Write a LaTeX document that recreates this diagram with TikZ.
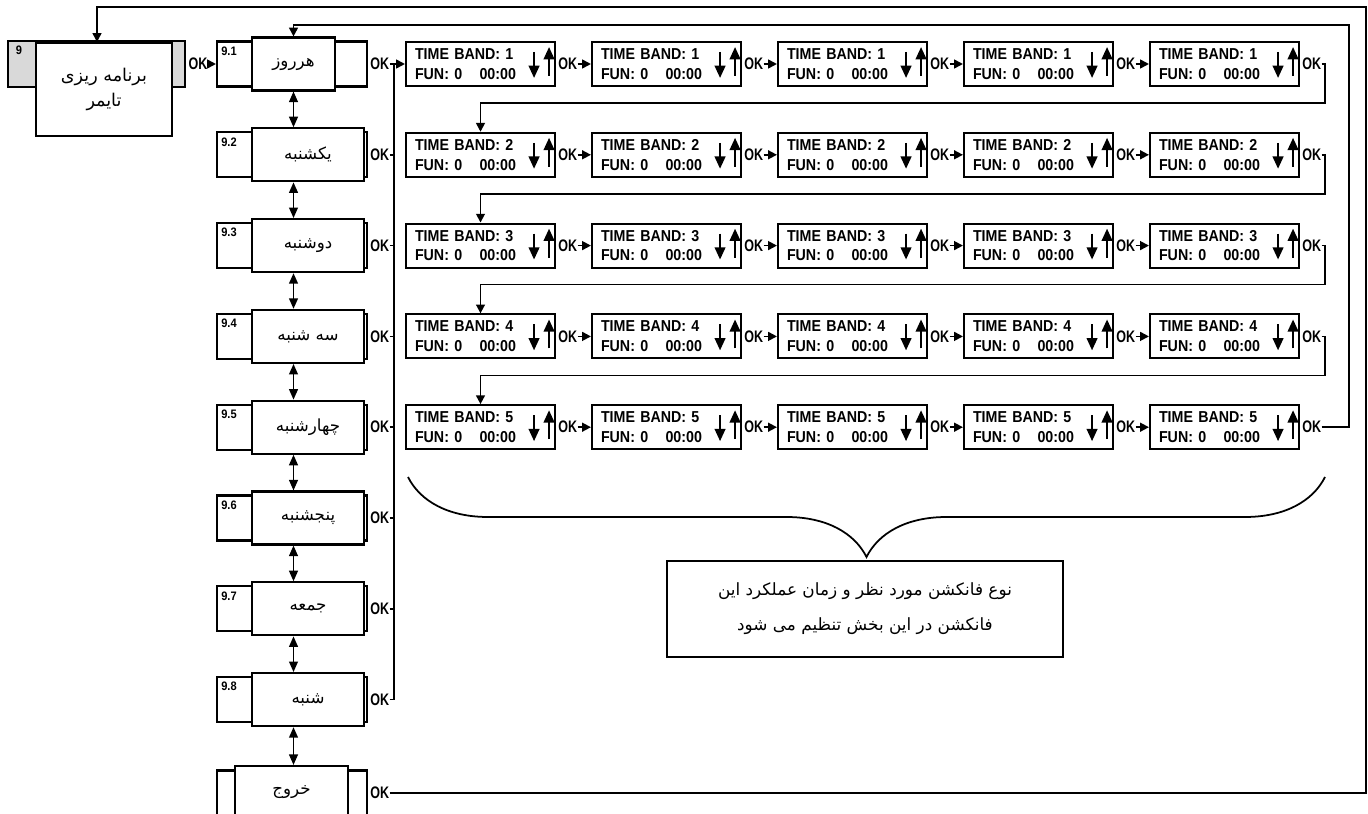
\documentclass[tikz,border=0pt]{standalone}
\usepackage{fontspec}
\setmainfont{Liberation Sans}
\newfontfamily\tbfont[FakeStretch=0.9]{Liberation Sans}
\newfontfamily\okfont[FakeStretch=0.75]{Liberation Sans}
\newfontfamily\fafont[Script=Arabic]{DejaVu Sans}
\TeXXeTstate=1
\usetikzlibrary{arrows.meta,decorations.pathreplacing}
\newcommand{\fatext}[1]{{\fafont\beginR #1\endR}}

\tikzset{
  conn/.style={line width=1pt},
  okarrow/.style={-{Triangle[length=5pt,width=5pt]}},
  dbl/.style={line width=1pt, {Triangle[length=6pt,width=5pt]}-{Triangle[length=6pt,width=5pt]}},
  updown/.style={line width=1.3pt, -{Triangle[length=7pt,width=6pt]}},
  dayframe/.style={draw, line width=1.2pt, fill=white, minimum width=3cm, minimum height=0.9cm},
  daybox/.style={draw, line width=1.2pt, fill=white, minimum width=2.24cm, minimum height=1.06cm, font=\fontsize{9.5}{11}\selectfont},
  tbbox/.style={draw, line width=1.2pt, minimum width=2.98cm, minimum height=0.88cm, align=left, text width=2.62cm, inner xsep=0.18cm, font=\tbfont\bfseries\fontsize{9}{11.3}\selectfont},
  oklbl/.style={inner sep=0pt, font=\okfont\bfseries\fontsize{9.5}{9.5}\selectfont},
  numlbl/.style={inner sep=0pt, anchor=north west, font=\tbfont\bfseries\fontsize{7}{7}\selectfont},
}

\begin{document}
\begin{tikzpicture}[x=0.02cm, y=-0.02cm]
  \clip (0,0) rectangle (1368,814);

  % Draw main menu box 9
  \node[draw, line width=1.6pt, fill=black!15, minimum width=3.54cm, minimum height=0.92cm] (g9) at (96.5,64) {};
  \node[numlbl] (n9) at ([xshift=0.18cm,yshift=-0.12cm]g9.north west) {9};
  \node[draw, line width=1.2pt, fill=white, minimum width=2.72cm, minimum height=1.86cm, align=center, font=\fontsize{10}{14.7}\selectfont] (m9) at (104,89.5) {\fatext{برنامه ریزی}\\\fatext{تایمر}};
  \node[oklbl, anchor=west] (ok9) at ([xshift=0.04cm]g9.east) {OK};

  % Draw day menu
  \node[dayframe] (f1) at (292,64) {};
  \node[numlbl] (n1) at ([xshift=0.1cm,yshift=-0.12cm]f1.north west) {9.1};
  \node[daybox, minimum width=1.66cm] (d1) at (293.5,64) {\fatext{هرروز}};
  \node[oklbl, anchor=west] (okd1) at ([xshift=0.04cm]f1.east) {OK};
  \foreach \k/\day in {2/یکشنبه, 3/دوشنبه, 4/سه شنبه, 5/چهارشنبه, 6/پنجشنبه, 7/جمعه, 8/شنبه}{
    \pgfmathsetmacro\yy{64+(\k-1)*90.8}
    \node[dayframe] (f\k) at (292,\yy) {};
    \node[numlbl] (n\k) at ([xshift=0.1cm,yshift=-0.12cm]f\k.north west) {9.\k};
    \node[daybox] (d\k) at (308,\yy) {\fatext{\day}};
    \node[oklbl, anchor=west] (okd\k) at ([xshift=0.04cm]f\k.east) {OK};
  }
  % exit box
  \node[dayframe] (fx) at (292,793) {};
  \node[daybox, minimum width=2.26cm] (dx) at (291.5,792.5) {\fatext{خروج}};
  \node[oklbl, anchor=west] (okx) at ([xshift=0.04cm]fx.east) {OK};

  % up/down between days
  \draw[dbl] (d1.south) -- (d1.south |- d2.north);
  \foreach \k in {2,...,7}{
    \pgfmathtruncatemacro\nk{\k+1}
    \draw[dbl] (d1.south |- d\k.south) -- (d1.south |- d\nk.north);
  }
  \draw[dbl] (d1.south |- d8.south) -- (d1.south |- dx.north);

  % Draw time band grid
  \foreach \r in {1,...,5}{
    \foreach \c in {1,...,5}{
      \pgfmathsetmacro\xx{480.5+(\c-1)*186}
      \pgfmathsetmacro\yy{64+(\r-1)*90.8}
      \node[tbbox] (tb-\r-\c) at (\xx,\yy) {TIME BAND: \r\\FUN: 0\hspace{1.1em}00:00};
      \draw[updown] ([xshift=-0.44cm,yshift=0.24cm]tb-\r-\c.east) -- ++(0,-0.52cm);
      \draw[updown] ([xshift=-0.14cm,yshift=-0.24cm]tb-\r-\c.east) -- ++(0,0.58cm);
      \node[oklbl, anchor=west] (ok-\r-\c) at ([xshift=0.04cm]tb-\r-\c.east) {OK};
    }
  }
  \foreach \r in {1,...,5}{
    \foreach \c in {1,...,4}{
      \pgfmathtruncatemacro\nc{\c+1}
      \draw[conn, okarrow] (ok-\r-\c.east) -- (tb-\r-\nc.west);
    }
  }

  % row wraps
  \foreach \r in {1,...,4}{
    \pgfmathtruncatemacro\nr{\r+1}
    \coordinate (wrap\r) at (1325,{64+(\r-1)*90.8+39});
    \draw[conn, okarrow] (ok-\r-5.east) -| (wrap\r) -| (tb-\nr-1.north);
  }

  % bus from days to first band
  \coordinate (bus) at (394,64);
  \draw[conn, okarrow] (ok9.east) -- (f1.west);
  \draw[conn, okarrow] (okd1.east) -- (tb-1-1.west);
  \draw[conn] (bus) -- (bus |- okd8.east);
  \foreach \k in {2,...,8}
    \draw[conn] (okd\k.east) -- (bus |- okd\k.east);

  % return loops
  \coordinate (inner) at (1349,25);
  \coordinate (outer) at (1366,7);
  \draw[conn, okarrow] (ok-5-5.east) -| (inner) -| (d1.north);
  \draw[conn, okarrow] (okx.east) -| (outer) -| ([xshift=-0.14cm]m9.north);

  % brace and note
  \draw[conn, decorate, decoration={brace, mirror, amplitude=1.6cm}] (408,477) -- (1325,477);
  \node[draw, line width=0.9pt, minimum width=7.92cm, minimum height=1.92cm, align=center, font=\fontsize{9.6}{20}\selectfont] (note) at (865,609) {\fatext{نوع فانکشن مورد نظر و زمان عملکرد این}\\\fatext{فانکشن در این بخش تنظیم می شود}};
\end{tikzpicture}
\end{document}
